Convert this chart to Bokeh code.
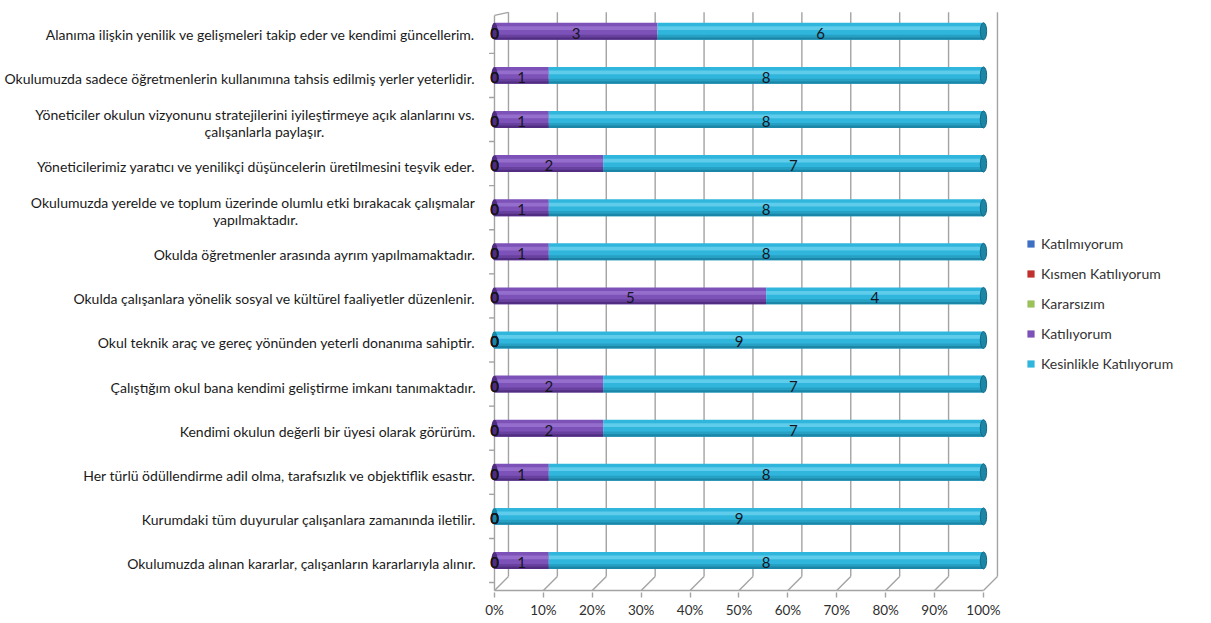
import numpy as np
import pandas as pd
from bokeh.plotting import figure
from bokeh.models import (ColumnDataSource, Range1d, FixedTicker, Legend,
                          LegendItem)
from bokeh.core.properties import value
from bokeh.embed import file_html
from bokeh.resources import INLINE

# Survey statements, listed top to bottom
statements = [
    ["Alanıma ilişkin yenilik ve gelişmeleri takip eder ve kendimi güncellerim."],
    ["Okulumuzda sadece öğretmenlerin kullanımına tahsis edilmiş yerler yeterlidir."],
    ["Yöneticiler okulun vizyonunu stratejilerini iyileştirmeye açık alanlarını vs.",
     "çalışanlarla paylaşır."],
    ["Yöneticilerimiz yaratıcı ve yenilikçi düşüncelerin üretilmesini teşvik eder."],
    ["Okulumuzda yerelde ve toplum üzerinde olumlu etki bırakacak çalışmalar",
     "yapılmaktadır."],
    ["Okulda öğretmenler arasında ayrım yapılmamaktadır."],
    ["Okulda çalışanlara yönelik sosyal ve kültürel faaliyetler düzenlenir."],
    ["Okul teknik araç ve gereç yönünden yeterli donanıma sahiptir."],
    ["Çalıştığım okul bana kendimi geliştirme imkanı tanımaktadır."],
    ["Kendimi okulun değerli bir üyesi olarak görürüm."],
    ["Her türlü ödüllendirme adil olma, tarafsızlık ve objektiflik esastır."],
    ["Kurumdaki tüm duyurular çalışanlara zamanında iletilir."],
    ["Okulumuzda alınan kararlar, çalışanların kararlarıyla alınır."],
]

# Response counts per statement (same order as above)
katilmiyorum = [0, 0, 0, 0, 0, 0, 0, 0, 0, 0, 0, 0, 0]
kismen_katiliyorum = [0, 0, 0, 0, 0, 0, 0, 0, 0, 0, 0, 0, 0]
kararsizim = [0, 0, 0, 0, 0, 0, 0, 0, 0, 0, 0, 0, 0]
katiliyorum = [3, 1, 1, 2, 1, 1, 5, 0, 2, 2, 1, 0, 1]
kesinlikle_katiliyorum = [6, 8, 8, 7, 8, 8, 4, 9, 7, 7, 8, 9, 8]

series_names = ["Katılmıyorum", "Kısmen Katılıyorum", "Kararsızım",
                "Katılıyorum", "Kesinlikle Katılıyorum"]
series_counts = [katilmiyorum, kismen_katiliyorum, kararsizim,
                 katiliyorum, kesinlikle_katiliyorum]
series_colors = ["#3d6fc2", "#c0302c", "#9bc25a", "#7d52b8", "#30b6dc"]
series_light = ["#6b93d8", "#d8605c", "#bcdc86", "#a07ad6", "#74d6f2"]
series_dark = ["#24498a", "#861d1a", "#6c8e38", "#4f2c7e", "#1a84a4"]

x_ticks = [0, 10, 20, 30, 40, 50, 60, 70, 80, 90, 100]
x_tick_labels = ["0%", "10%", "20%", "30%", "40%", "50%", "60%", "70%",
                 "80%", "90%", "100%"]

n = len(statements)
ypos = [n - 1 - i for i in range(n)]

counts = pd.DataFrame({name: c for name, c in zip(series_names, series_counts)})
totals = counts.sum(axis=1)
pct = counts.div(totals, axis=0) * 100
right = pct.cumsum(axis=1)
left = right - pct

keys = ["s%d" % k for k in range(len(series_names))]
data = {"y": ypos}
for k, name in zip(keys, series_names):
    data[k] = pct[name].tolist()
source = ColumnDataSource(data)

FONT = "Lato"
BAR_H = 0.385
DEPTH_X = 2.86     # receding depth of the 3D box, x units
DEPTH_Y = 0.317    # receding depth of the 3D box, y units
AXIS_GRAY = "#a3a3a3"

p = figure(width=1211, height=623, output_backend="svg", toolbar_location=None,
           x_range=Range1d(-101.02, 146.63), y_range=Range1d(-0.726, 12.698),
           min_border_left=0, min_border_right=0, min_border_top=0,
           min_border_bottom=31)
p.outline_line_color = None
p.xgrid.visible = False
p.ygrid.visible = False
p.yaxis.visible = False
p.background_fill_color = "white"
p.border_fill_color = "white"

# back wall gridlines and floor lines
grid_x = np.array(x_ticks, dtype=float)
floor_front = -0.68
floor_back = floor_front + DEPTH_Y
wall_top = 12.43
p.segment(x0=grid_x + DEPTH_X, y0=[floor_back] * len(grid_x),
          x1=grid_x + DEPTH_X, y1=[wall_top] * len(grid_x),
          line_color=AXIS_GRAY, line_width=1.4)
p.segment(x0=grid_x, y0=[floor_front] * len(grid_x),
          x1=grid_x + DEPTH_X, y1=[floor_back] * len(grid_x),
          line_color=AXIS_GRAY, line_width=1.4)
p.segment(x0=[0], y0=[floor_front], x1=[100], y1=[floor_front],
          line_color=AXIS_GRAY, line_width=1.4)
# front left edge of the box with category separators
p.segment(x0=[0], y0=[floor_front], x1=[0], y1=[wall_top - 0.07],
          line_color=AXIS_GRAY, line_width=1.4)
p.segment(x0=[0], y0=[wall_top - 0.07], x1=[DEPTH_X], y1=[wall_top],
          line_color=AXIS_GRAY, line_width=1.4)
sep_y = [i + 0.5 for i in range(-1, n - 1)]
p.segment(x0=[-1.1] * len(sep_y), y0=sep_y, x1=[0] * len(sep_y), y1=sep_y,
          line_color=AXIS_GRAY, line_width=1.4)

# stacked bars
renderers = p.hbar_stack(keys, y="y", height=BAR_H, color=series_colors,
                         source=source, line_color=None)

# cylinder shading on each segment
for k, name in enumerate(series_names):
    seg = pd.DataFrame({"y": ypos, "left": left[name], "right": right[name]})
    seg = seg[seg["right"] > seg["left"]]
    if seg.empty:
        continue
    high = ColumnDataSource(dict(y=(seg["y"] + BAR_H * 0.18).tolist(),
                                 left=seg["left"].tolist(),
                                 right=seg["right"].tolist()))
    p.hbar(y="y", left="left", right="right", height=BAR_H * 0.22, source=high,
           fill_color=series_light[k], fill_alpha=0.7, line_color=None)
    mid = ColumnDataSource(dict(y=(seg["y"] - BAR_H * 0.3).tolist(),
                                left=seg["left"].tolist(),
                                right=seg["right"].tolist()))
    p.hbar(y="y", left="left", right="right", height=BAR_H * 0.2, source=mid,
           fill_color=series_dark[k], fill_alpha=0.45, line_color=None)
    low = ColumnDataSource(dict(y=(seg["y"] - BAR_H * 0.43).tolist(),
                                left=seg["left"].tolist(),
                                right=seg["right"].tolist()))
    p.hbar(y="y", left="left", right="right", height=BAR_H * 0.14, source=low,
           fill_color=series_dark[k], fill_alpha=0.95, line_color=None)

# rounded end caps
ends = right[series_names[-1]]
p.ellipse(x=ends.tolist(), y=ypos, width=1.3, height=BAR_H,
          fill_color="#1c86a6", line_color="#136985", line_width=1)
first_col = [series_names[[c > 0 for c in row].index(True)] if any(row) else series_names[-1]
             for row in counts.values.tolist()]
p.ellipse(x=[0] * n, y=ypos, width=1.3, height=BAR_H,
          fill_color=[series_dark[series_names.index(c)] for c in first_col],
          line_color=None)

# value labels at the middle of each segment
lab_x, lab_y, lab_t = [], [], []
for name in series_names:
    mid_x = (left[name] + right[name]) / 2
    lab_x += mid_x.tolist()
    lab_y += ypos
    lab_t += [str(v) for v in counts[name].tolist()]
p.text(x=lab_x, y=lab_y, text=lab_t, text_align="center",
       text_baseline="middle", text_font=value(FONT), text_font_size="15px",
       text_color="#15151f", y_offset=2)

# bottom axis
p.xaxis.ticker = FixedTicker(ticks=x_ticks)
p.xaxis.major_label_overrides = {t: l for t, l in zip(x_ticks, x_tick_labels)}
p.xaxis.axis_line_color = None
p.xaxis.major_tick_line_color = AXIS_GRAY
p.xaxis.major_tick_line_width = 1.4
p.xaxis.major_tick_out = 5
p.xaxis.major_tick_in = 0
p.xaxis.minor_tick_line_color = None
p.xaxis.major_label_text_font = FONT
p.xaxis.major_label_text_font_size = "13.5px"
p.xaxis.major_label_text_color = "#2e2e2e"
p.xaxis.major_label_standoff = 4

# statement labels, right-aligned beside the bars
one_y, one_t = [], []
first_y, first_t = [], []
second_y, second_t, second_off = [], [], []
second_line_offset = {2: -230, 4: -239}
for i, lines in enumerate(statements):
    if len(lines) == 1:
        one_y.append(ypos[i])
        one_t.append(lines[0])
    else:
        first_y.append(ypos[i])
        first_t.append(lines[0])
        second_y.append(ypos[i])
        second_t.append(lines[1])
        second_off.append(second_line_offset[i])

lbl_style = dict(text_font=value(FONT), text_font_size="14px",
                 text_color="#1a1a1a", text_baseline="middle")
p.text(x=[0] * len(one_y), y=one_y, text=one_t, x_offset=-19, y_offset=3,
       text_align="right", **lbl_style)
p.text(x=[0] * len(first_y), y=first_y, text=first_t, x_offset=-19, y_offset=-5,
       text_align="right", **lbl_style)
p.text(x=[0] * len(second_y), y=second_y, text=second_t, x_offset=second_off,
       y_offset=12, text_align="center", **lbl_style)

legend = Legend(items=[LegendItem(label=nm, renderers=[r])
                       for nm, r in zip(series_names, renderers)],
                location=(1026, 220), glyph_width=9, glyph_height=9,
                label_text_font=FONT, label_text_font_size="14px",
                label_text_color="#333333", spacing=13, border_line_color=None,
                background_fill_alpha=0, label_standoff=6, padding=8,
                margin=0)
p.add_layout(legend)

open("out.html", "w").write(file_html(p, INLINE))
